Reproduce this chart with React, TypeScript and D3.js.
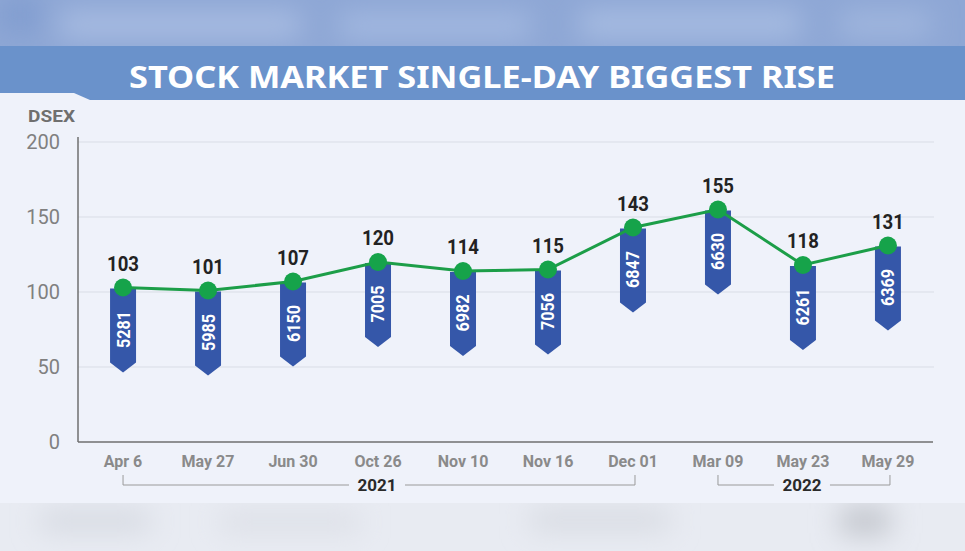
import React from 'react';
import * as d3 from 'd3';

const dates = ['Apr 6', 'May 27', 'Jun 30', 'Oct 26', 'Nov 10', 'Nov 16', 'Dec 01', 'Mar 09', 'May 23', 'May 29'];
const rise = [103, 101, 107, 120, 114, 115, 143, 155, 118, 131];
const dsex = [5281, 5985, 6150, 7005, 6982, 7056, 6847, 6630, 6261, 6369];
const yTicks = [0, 50, 100, 150, 200];
const years = [
  {label: '2021', from: 'Apr 6', to: 'Dec 01'},
  {label: '2022', from: 'Mar 09', to: 'May 29'},
];

const W = 965;
const H = 551;

export default function App() {
  const x = d3.scalePoint<string>().domain(dates).range([78, 933]).padding(0.53);
  const y = d3.scaleLinear().domain([0, 200]).range([442, 142]);

  const line = d3
    .line<number>()
    .x((d, i) => x(dates[i]) as number)
    .y(d => y(d));

  const ribbon = (cx: number, top: number) => {
    const w = 13, len = 84, notch = 10;
    return `M${cx - w},${top} L${cx + w},${top} L${cx + w},${top + len - notch} L${cx},${top + len} L${cx - w},${top + len - notch} Z`;
  };

  return (
    <svg width={W} height={H} style={{position: 'absolute', left: 0, top: 0, display: 'block'}}>
      <defs>
        <filter id="blur" x="-50%" y="-200%" width="200%" height="500%">
          <feGaussianBlur stdDeviation="14" />
        </filter>
      </defs>

      {/* blurred top strip */}
      <rect x={0} y={0} width={W} height={50} fill="#8ea7d5" />
      <g filter="url(#blur)">
        <rect x={60} y={14} width={240} height={22} fill="#aec1e5" />
        <rect x={340} y={16} width={190} height={20} fill="#a9bee4" />
        <rect x={580} y={12} width={220} height={24} fill="#abc0e4" />
        <rect x={840} y={14} width={90} height={20} fill="#a6bbe1" />
        <rect x={0} y={0} width={40} height={30} fill="#7f9bcf" />
      </g>

      {/* blurred bottom strip */}
      <rect x={0} y={500} width={W} height={51} fill="#e8ebf2" />
      <g filter="url(#blur)">
        <rect x={40} y={512} width={110} height={18} fill="#d2d6de" />
        <rect x={220} y={514} width={140} height={16} fill="#d9dce3" />
        <rect x={530} y={510} width={140} height={20} fill="#d6d9e0" />
        <rect x={840} y={508} width={50} height={26} fill="#bfc2c9" />
      </g>

      {/* title band */}
      <rect x={0} y={46} width={W} height={56} fill="#6a92cb" />
      <text
        x={482}
        y={88}
        textAnchor="middle"
        fill="#ffffff"
        fontFamily="'Noto Sans', sans-serif"
        fontWeight={700}
        fontSize={30}
        textLength={706}
        lengthAdjust="spacingAndGlyphs"
      >
        STOCK MARKET SINGLE-DAY BIGGEST RISE
      </text>

      {/* panel with tab */}
      <path d={`M0,93 L74,93 L90,100 L${W},100 L${W},503 L0,503 Z`} fill="#eff2fa" />

      {/* grid */}
      {yTicks.filter(t => t > 0).map(t => (
        <line key={t} x1={78} x2={934} y1={y(t)} y2={y(t)} stroke="#d9dde6" strokeWidth={1} />
      ))}
      <line x1={78} x2={78} y1={137} y2={y(0)} stroke="#6f6f6f" strokeWidth={1.5} />
      <line x1={78} x2={933} y1={y(0)} y2={y(0)} stroke="#6f6f6f" strokeWidth={1.5} />

      {/* y ticks */}
      <text x={28} y={122} fill="#6f6f6f" fontFamily="Roboto, sans-serif" fontWeight={700} fontSize={17} textLength={47} lengthAdjust="spacingAndGlyphs">
        DSEX
      </text>
      {yTicks.map(t => (
        <text
          key={t}
          x={60}
          y={y(t) + 7}
          textAnchor="end"
          fill="#808080"
          fontFamily="Roboto, sans-serif"
          fontSize={20}
        >
          {t}
        </text>
      ))}

      {/* ribbons */}
      {rise.map((v, i) => {
        const cx = x(dates[i]) as number;
        const top = y(v) + 1;
        return (
          <g key={dates[i]}>
            <path d={ribbon(cx, top)} fill="#3557a9" />
            <text
              transform={`translate(${cx},${top + 41}) rotate(-90)`}
              textAnchor="middle"
              dy="0.36em"
              fill="#ffffff"
              fontFamily="Roboto, sans-serif"
              fontWeight={700}
              fontSize={18}
              textLength={37}
              lengthAdjust="spacingAndGlyphs"
            >
              {dsex[i]}
            </text>
          </g>
        );
      })}

      {/* line + dots */}
      <path d={line(rise) as string} fill="none" stroke="#1c9e48" strokeWidth={3} />
      {rise.map((v, i) => (
        <g key={'p' + i}>
          <circle cx={x(dates[i])} cy={y(v)} r={9} fill="#16a34a" />
          <text
            x={x(dates[i])}
            y={y(v) - 17}
            textAnchor="middle"
            fill="#222222"
            fontFamily="Roboto, sans-serif"
            fontWeight={700}
            fontSize={21}
            textLength={32}
            lengthAdjust="spacingAndGlyphs"
          >
            {v}
          </text>
        </g>
      ))}

      {/* x labels */}
      {dates.map(d => (
        <text
          key={d}
          x={x(d)}
          y={467}
          textAnchor="middle"
          fill="#8a8a8a"
          fontFamily="Roboto, sans-serif"
          fontWeight={700}
          fontSize={16}
        >
          {d}
        </text>
      ))}

      {/* year brackets */}
      {years.map(yr => {
        const x0 = x(yr.from) as number;
        const x1 = (x(yr.to) as number) + 2;
        const mid = (x0 + x1) / 2 - 2;
        const gap = 28;
        return (
          <g key={yr.label}>
            <path
              d={`M${x0},475 L${x0},485 L${mid - gap},485 M${mid + gap},485 L${x1},485 L${x1},475`}
              fill="none"
              stroke="#9a9a9a"
              strokeWidth={1}
            />
            <text
              x={mid}
              y={491}
              textAnchor="middle"
              fill="#2a2a2a"
              fontFamily="Roboto, sans-serif"
              fontWeight={700}
              fontSize={17}
            >
              {yr.label}
            </text>
          </g>
        );
      })}
    </svg>
  );
}
